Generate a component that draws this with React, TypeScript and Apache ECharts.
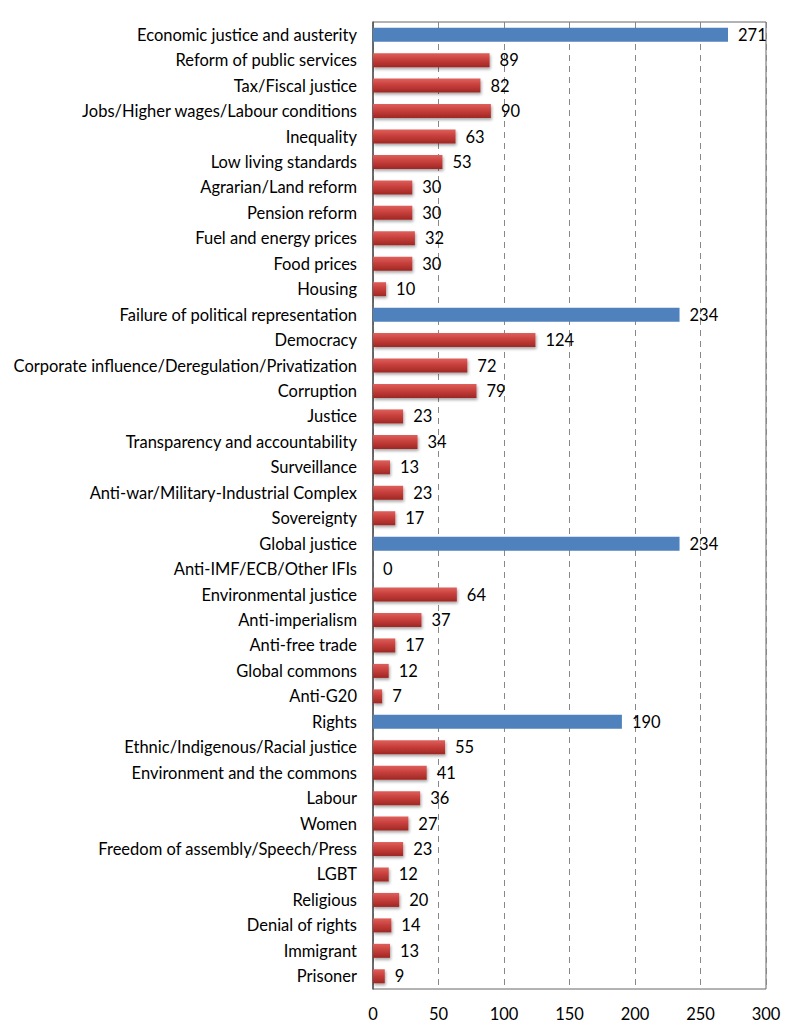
import React, { useEffect, useRef } from "react";
import * as echarts from "echarts";

const categories = [
  "Economic justice and austerity",
  "Reform of public services",
  "Tax/Fiscal justice",
  "Jobs/Higher wages/Labour conditions",
  "Inequality",
  "Low living standards",
  "Agrarian/Land reform",
  "Pension reform",
  "Fuel and energy prices",
  "Food prices",
  "Housing",
  "Failure of political representation",
  "Democracy",
  "Corporate influence/Deregulation/Privatization",
  "Corruption",
  "Justice",
  "Transparency and accountability",
  "Surveillance",
  "Anti-war/Military-Industrial Complex",
  "Sovereignty",
  "Global justice",
  "Anti-IMF/ECB/Other IFIs",
  "Environmental justice",
  "Anti-imperialism",
  "Anti-free trade",
  "Global commons",
  "Anti-G20",
  "Rights",
  "Ethnic/Indigenous/Racial justice",
  "Environment and the commons",
  "Labour",
  "Women",
  "Freedom of assembly/Speech/Press",
  "LGBT",
  "Religious",
  "Denial of rights",
  "Immigrant",
  "Prisoner",
];

const values = [
  271, 89, 82, 90, 63, 53, 30, 30, 32, 30, 10,
  234, 124, 72, 79, 23, 34, 13, 23, 17,
  234, 0, 64, 37, 17, 12, 7,
  190, 55, 41, 36, 27, 23, 12, 20, 14, 13, 9,
];

const groupHeaders = [
  "Economic justice and austerity",
  "Failure of political representation",
  "Global justice",
  "Rights",
];

const xTicks = [0, 50, 100, 150, 200, 250, 300];

const FONT = "Lato";

export default function App() {
  const ref = useRef<HTMLDivElement>(null);
  useEffect(() => {
    if (!ref.current) return;
    const chart = echarts.init(ref.current, null, { renderer: "svg" });
    const redGradient = new echarts.graphic.LinearGradient(0, 0, 0, 1, [
      { offset: 0, color: "#DE605C" },
      { offset: 0.45, color: "#C8403C" },
      { offset: 1, color: "#9E2724" },
    ]);
    const data = values.map((v, i) => {
      const isHeader = groupHeaders.includes(categories[i]);
      return {
        value: v,
        itemStyle: isHeader
          ? { color: "#4F81BD" }
          : {
              color: redGradient,
              shadowColor: "rgba(0,0,0,0.35)",
              shadowBlur: 3,
              shadowOffsetX: 1,
              shadowOffsetY: 2,
            },
      };
    });
    chart.setOption({
      animation: false,
      grid: { left: 365, right: 26, top: 14, bottom: 36, containLabel: false,
        show: true, borderColor: "#666", borderWidth: 1 },
      xAxis: {
        type: "value",
        min: 0,
        max: 300,
        interval: 50,
        axisLine: { show: false },
        axisTick: { show: false },
        axisLabel: {
          color: "#000",
          fontFamily: FONT,
          fontSize: 16.5,
          margin: 16,
          formatter: (v: number) => (xTicks.includes(v) ? String(v) : ""),
        },
        splitLine: { show: true, lineStyle: { color: "#888", type: [6, 5], width: 1 } },
      },
      yAxis: {
        type: "category",
        data: categories,
        inverse: true,
        axisLine: { show: true, lineStyle: { color: "#555", width: 1.5 } },
        axisTick: { show: false },
        axisLabel: { color: "#000", fontFamily: FONT, fontSize: 16.5, margin: 16 },
      },
      series: [
        {
          type: "bar",
          data,
          barWidth: 14,
          label: {
            show: true,
            position: "right",
            distance: 10,
            color: "#000",
            fontFamily: FONT,
            fontSize: 16.5,
          },
        },
      ],
    });
    return () => chart.dispose();
  }, []);
  return <div ref={ref} style={{ width: 784, height: 1017 }} />;
}
